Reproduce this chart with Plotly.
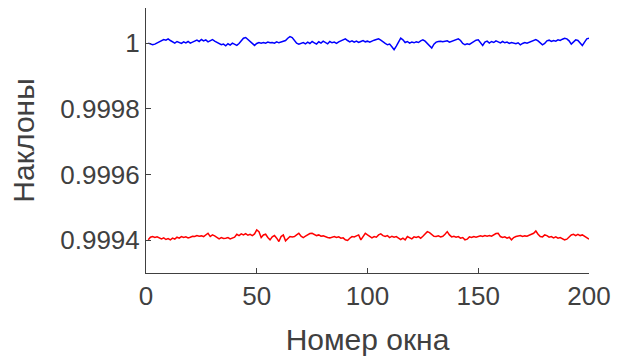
import plotly.graph_objects as go

# Window numbers and slope estimates for the two channels
window = list(range(1, 201))

slope_blue = [
    1.000000, 0.999998, 0.999995, 0.999997, 1.000000, 1.000003, 1.000007, 1.000011, 1.000009, 1.000013,
    1.000008, 1.000003, 1.000000, 1.000005, 1.000002, 0.999999, 1.000004, 1.000001, 1.000005, 1.000000,
    1.000003, 1.000006, 1.000009, 1.000005, 1.000011, 1.000007, 1.000010, 1.000004, 1.000008, 1.000011,
    1.000006, 1.000002, 0.999999, 0.999995, 0.999997, 0.999992, 0.999998, 0.999994, 1.000000, 0.999996,
    0.999993, 0.999999, 1.000007, 1.000015, 1.000017, 1.000011, 1.000003, 0.999997, 0.999993, 0.999999,
    1.000002, 1.000000, 1.000002, 1.000000, 1.000003, 1.000001, 1.000002, 1.000000, 1.000004, 1.000001,
    1.000003, 1.000005, 1.000008, 1.000015, 1.000020, 1.000017, 1.000009, 1.000000, 0.999997, 0.999999,
    1.000002, 0.999998, 1.000003, 0.999999, 1.000005, 1.000001, 0.999997, 1.000004, 1.000000, 1.000006,
    1.000002, 0.999998, 1.000005, 1.000001, 1.000003, 0.999999, 1.000004, 1.000007, 1.000010, 1.000013,
    1.000008, 1.000004, 1.000007, 1.000003, 1.000006, 1.000002, 1.000005, 1.000008, 1.000004, 1.000006,
    1.000003, 1.000007, 1.000009, 1.000011, 1.000013, 1.000009, 1.000003, 0.999999, 0.999995, 0.999997,
    0.999989, 0.999980, 0.999991, 1.000005, 1.000015, 1.000010, 1.000002, 1.000005, 1.000000, 1.000003,
    1.000001, 1.000004, 1.000002, 1.000007, 1.000010, 1.000006, 1.000000, 0.999993, 0.999985, 0.999997,
    1.000003, 1.000005, 1.000006, 1.000004, 1.000005, 1.000007, 1.000003, 1.000006, 1.000009, 1.000012,
    1.000013, 1.000008, 0.999999, 0.999995, 0.999998, 0.999996, 1.000000, 1.000005, 1.000009, 1.000010,
    1.000001, 0.999993, 1.000003, 1.000006, 1.000000, 1.000005, 1.000002, 1.000007, 1.000004, 1.000001,
    1.000005, 1.000001, 1.000003, 0.999999, 1.000002, 1.000000, 0.999998, 1.000001, 0.999995, 0.999999,
    1.000002, 1.000000, 1.000003, 1.000005, 1.000009, 1.000011, 1.000007, 1.000000, 0.999995, 0.999999,
    1.000007, 1.000009, 1.000005, 1.000008, 1.000006, 1.000010, 1.000008, 1.000012, 1.000015, 1.000013,
    1.000007, 0.999997, 1.000005, 1.000010, 1.000008, 1.000000, 0.999993, 1.000003, 1.000013, 1.000015,
]

slope_red = [
    0.999401, 0.999409, 0.999411, 0.999408, 0.999410, 0.999406, 0.999404, 0.999407, 0.999402, 0.999405,
    0.999401, 0.999406, 0.999403, 0.999409, 0.999406, 0.999411, 0.999408, 0.999410, 0.999407, 0.999409,
    0.999412, 0.999411, 0.999414, 0.999412, 0.999413, 0.999411, 0.999415, 0.999421, 0.999411, 0.999416,
    0.999413, 0.999407, 0.999404, 0.999408, 0.999405, 0.999406, 0.999408, 0.999404, 0.999407, 0.999409,
    0.999418, 0.999414, 0.999419, 0.999416, 0.999420, 0.999415, 0.999418, 0.999414, 0.999419, 0.999431,
    0.999426, 0.999408, 0.999416, 0.999418, 0.999408, 0.999401, 0.999410, 0.999414, 0.999406, 0.999396,
    0.999411, 0.999416, 0.999398, 0.999406, 0.999411, 0.999410, 0.999411, 0.999416, 0.999421, 0.999412,
    0.999408, 0.999412, 0.999416, 0.999420, 0.999421, 0.999418, 0.999414, 0.999416, 0.999412, 0.999413,
    0.999410, 0.999408, 0.999407, 0.999409, 0.999411, 0.999408, 0.999410, 0.999406, 0.999407, 0.999401,
    0.999399, 0.999406, 0.999411, 0.999410, 0.999413, 0.999416, 0.999401, 0.999412, 0.999421, 0.999416,
    0.999410, 0.999407, 0.999411, 0.999409, 0.999416, 0.999419, 0.999414, 0.999411, 0.999414, 0.999408,
    0.999412, 0.999409, 0.999411, 0.999405, 0.999402, 0.999406, 0.999401, 0.999411, 0.999408, 0.999404,
    0.999410, 0.999408, 0.999411, 0.999406, 0.999412, 0.999420, 0.999426, 0.999423, 0.999416, 0.999412,
    0.999411, 0.999413, 0.999410, 0.999412, 0.999418, 0.999426, 0.999416, 0.999410, 0.999412, 0.999409,
    0.999411, 0.999406, 0.999408, 0.999401, 0.999403, 0.999410, 0.999408, 0.999411, 0.999409, 0.999410,
    0.999413, 0.999411, 0.999414, 0.999412, 0.999414, 0.999412, 0.999416, 0.999420, 0.999421, 0.999411,
    0.999408, 0.999410, 0.999406, 0.999409, 0.999401, 0.999408, 0.999411, 0.999412, 0.999414, 0.999411,
    0.999413, 0.999412, 0.999414, 0.999418, 0.999421, 0.999428, 0.999418, 0.999411, 0.999410, 0.999416,
    0.999414, 0.999409, 0.999411, 0.999407, 0.999410, 0.999406, 0.999408, 0.999404, 0.999401, 0.999403,
    0.999411, 0.999416, 0.999418, 0.999414, 0.999418, 0.999414, 0.999416, 0.999411, 0.999406, 0.999403,
]

x_ticks = [0, 50, 100, 150, 200]
y_ticks = [0.9994, 0.9996, 0.9998, 1.0]
y_tick_text = ["0.9994", "0.9996", "0.9998", "1"]

axis_color = "#404040"
font_family = "Liberation Sans, Arial, sans-serif"

fig = go.Figure()
fig.add_trace(go.Scatter(x=window, y=slope_blue, mode="lines",
                         line=dict(color="#0000ff", width=1.5), showlegend=False))
fig.add_trace(go.Scatter(x=window, y=slope_red, mode="lines",
                         line=dict(color="#ff0000", width=1.5), showlegend=False))

fig.update_layout(
    width=619, height=362,
    margin=dict(l=146, r=26, t=8, b=89),
    paper_bgcolor="white", plot_bgcolor="white",
    font=dict(family=font_family, color=axis_color),
)
fig.update_xaxes(
    range=[0, 200], tickvals=x_ticks,
    showline=True, linecolor=axis_color, linewidth=1,
    ticks="inside", ticklen=5, tickcolor=axis_color,
    showgrid=False, zeroline=False, mirror=False,
    tickfont=dict(size=26, color=axis_color),
    title=dict(text="Номер окна", font=dict(size=30, color=axis_color), standoff=18),
)
fig.update_yaxes(
    range=[0.99930, 1.000107], tickvals=y_ticks, ticktext=y_tick_text,
    showline=True, linecolor=axis_color, linewidth=1,
    ticks="inside", ticklen=5, tickcolor=axis_color,
    showgrid=False, zeroline=False, mirror=False,
    tickfont=dict(size=26, color=axis_color),
    title=dict(text="Наклоны", font=dict(size=30, color=axis_color), standoff=16),
)

fig.write_html("out.html")
